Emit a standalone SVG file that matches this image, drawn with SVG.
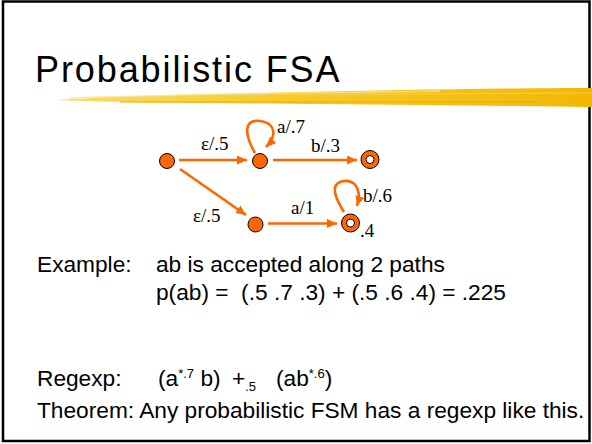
<svg xmlns="http://www.w3.org/2000/svg" width="592" height="444" viewBox="0 0 592 444">
  <defs>
    <style>
      .title { font-family: "Liberation Sans", Arial, sans-serif; font-size: 36px; letter-spacing: 1.9px; fill: #000; }
      .body { font-family: "Liberation Sans", Arial, sans-serif; font-size: 22.7px; fill: #000; }
      .small { font-size: 13px; }
      .lbl { font-family: "Liberation Serif", "Times New Roman", serif; font-size: 19px; fill: #000; }
      .edge { fill: none; stroke: #FF6600; stroke-width: 2.6; }
      .st { fill: #FF6600; stroke: #000; stroke-width: 1; }
      .inner { fill: #fff; stroke: #000; stroke-width: 1; }
    </style>
    <marker id="arr" viewBox="0 0 10 9" refX="10" refY="4.5" markerWidth="10" markerHeight="9" markerUnits="userSpaceOnUse" orient="auto">
      <path d="M0,0 L10,4.5 L0,9 z" fill="#FF6600"/>
    </marker>
    <linearGradient id="brush" x1="0" y1="0" x2="1" y2="0">
      <stop offset="0" stop-color="#F9DE6A"/>
      <stop offset="0.4" stop-color="#F6CB2E"/>
      <stop offset="1" stop-color="#F2B705"/>
    </linearGradient>
  </defs>

  <rect x="0" y="0" width="592" height="444" fill="#fff"/>
  <rect x="3" y="1.5" width="586.5" height="439.5" fill="none" stroke="#000" stroke-width="2.5"/>

  <!-- brush stroke under title -->
  <g id="brush-stroke">
    <path d="M55,100 C120,96 250,93 400,90 C470,89 540,88 592,88 L592,107 C520,106 420,105 320,104 C220,103 130,103 55,100 Z" fill="url(#brush)"/>
    <path d="M70,98 C160,95 300,93 440,91" stroke="#FBE58C" stroke-width="1.5" fill="none" opacity="0.8"/>
    <path d="M120,102 C250,101 380,101 540,102" stroke="#EFAE00" stroke-width="1.5" fill="none" opacity="0.7"/>
    <path d="M300,95 C400,94 480,93 592,93" stroke="#F7D24A" stroke-width="1.2" fill="none" opacity="0.8"/>
  </g>

  <text class="title" x="35" y="82">Probabilistic FSA</text>

  <!-- connectors -->
  <g id="connectors">
    <path class="edge" d="M179,160 L247,160" marker-end="url(#arr)"/>
    <path class="edge" d="M273,160 L357,160" marker-end="url(#arr)"/>
    <path class="edge" d="M180,169 L246,215" marker-end="url(#arr)"/>
    <path class="edge" d="M268,223.5 L337,223.5" marker-end="url(#arr)"/>
    <path class="edge" d="M255,153 C243,132 245,119 260,121 C276,123 277,136 266,147" marker-end="url(#arr)"/>
    <path class="edge" d="M344,212 C336,199 330,186 340,182 C352,178 363,186 357,206" marker-end="url(#arr)"/>
    <text class="lbl" x="201" y="150">ε/.5</text>
    <text class="lbl" x="277" y="133">a/.7</text>
    <text class="lbl" x="311" y="152">b/.3</text>
    <text class="lbl" x="193" y="222">ε/.5</text>
    <text class="lbl" x="291" y="214">a/1</text>
    <text class="lbl" x="363" y="202">b/.6</text>
  </g>

  <!-- nodes -->
  <g id="n0"><circle class="st" cx="167" cy="161" r="7.5"/></g>
  <g id="n1"><circle class="st" cx="260" cy="161" r="7.5"/></g>
  <g id="n2"><circle class="st" cx="370" cy="159.5" r="9"/><circle class="inner" cx="370" cy="159.5" r="4"/></g>
  <g id="n3"><circle class="st" cx="255.5" cy="224.5" r="7.5"/></g>
  <g id="n4"><circle class="st" cx="350.5" cy="223" r="9"/><circle class="inner" cx="350.5" cy="223" r="4"/><text class="lbl" x="360" y="237">.4</text></g>

  <!-- body text -->
  <text class="body" x="37" y="272">Example:</text>
  <text class="body" x="156" y="272">ab is accepted along 2 paths</text>
  <text class="body" x="156" y="300" xml:space="preserve">p(ab) =  (.5 .7 .3) + (.5 .6 .4) = .225</text>

  <text class="body" x="37" y="386">Regexp:</text>
  <text class="body" x="158" y="386">(a<tspan class="small" dy="-8">*.7</tspan><tspan dy="8"> b)</tspan></text>
  <text class="body" x="232" y="386">+<tspan class="small" dy="5">.5</tspan></text>
  <text class="body" x="276" y="386">(ab<tspan class="small" dy="-8">*.6</tspan><tspan dy="8">)</tspan></text>

  <text class="body" x="37" y="418">Theorem: Any probabilistic FSM has a regexp like this.</text>
</svg>
